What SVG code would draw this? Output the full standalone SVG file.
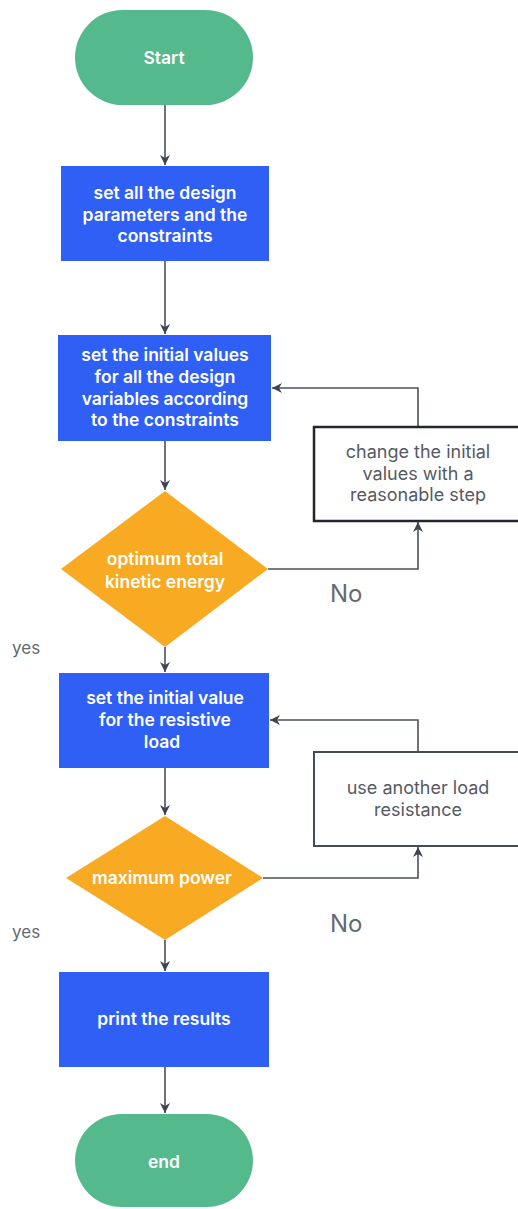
<svg xmlns="http://www.w3.org/2000/svg" width="518" height="1209" viewBox="0 0 518 1209">
<defs>
<style>
.term{fill:#55b98e}
.proc{fill:#2f5ff4}
.dec{fill:#f7aa22}
.io{fill:#ffffff;stroke:#23262e;stroke-width:2.5}
.io2{fill:#ffffff;stroke:#454b59;stroke-width:2}
.wt{fill:#ffffff;font-family:Inter,"Liberation Sans",sans-serif;font-weight:600;font-size:17.5px;text-anchor:middle}
.gt{fill:#555a63;font-family:Inter,"Liberation Sans",sans-serif;font-weight:400;font-size:18px;text-anchor:middle}
.lbl{fill:#666a70;font-family:Inter,"Liberation Sans",sans-serif;font-weight:400}
.edge{fill:none;stroke:#4b505d;stroke-width:1.6}
</style>
<marker id="ah" viewBox="0 0 10 10" refX="10" refY="5" markerWidth="10" markerHeight="10" markerUnits="userSpaceOnUse" orient="auto">
<path d="M0,0 L10,5 L0,10 L3,5 Z" fill="#3f4452"/>
</marker>
</defs>
<rect width="518" height="1209" fill="#ffffff"/>

<g id="connectors">
<path class="edge" d="M165,105 V165" marker-end="url(#ah)"/>
<path class="edge" d="M165,261 V334" marker-end="url(#ah)"/>
<path class="edge" d="M165,441 V490" marker-end="url(#ah)"/>
<path class="edge" d="M268,569 H418 V522" marker-end="url(#ah)"/>
<path class="edge" d="M418,427 V388 H272" marker-end="url(#ah)"/>
<path class="edge" d="M165,647 V672" marker-end="url(#ah)"/>
<path class="edge" d="M165,768 V815" marker-end="url(#ah)"/>
<path class="edge" d="M263,878 H418 V847" marker-end="url(#ah)"/>
<path class="edge" d="M418,752 V720 H270" marker-end="url(#ah)"/>
<path class="edge" d="M165,940 V971" marker-end="url(#ah)"/>
<path class="edge" d="M165,1067 V1113" marker-end="url(#ah)"/>
</g>

<g id="start">
<rect class="term" x="75" y="10" width="178" height="95" rx="47.5" ry="47.5"/>
<text class="wt" x="164" y="64">Start</text>
</g>

<g id="setParams">
<rect class="proc" x="61" y="166" width="208" height="95"/>
<text class="wt" x="165" y="199">set all the design</text>
<text class="wt" x="165" y="221">parameters and the</text>
<text class="wt" x="165" y="242">constraints</text>
</g>

<g id="setInitial">
<rect class="proc" x="58" y="335" width="213" height="106"/>
<text class="wt" x="165" y="361">set the initial values</text>
<text class="wt" x="165" y="383">for all the design</text>
<text class="wt" x="165" y="405">variables according</text>
<text class="wt" x="165" y="426">to the constraints</text>
</g>

<g id="changeInitial">
<rect class="io" x="314" y="427" width="210" height="94"/>
<text class="gt" x="418" y="458">change the initial</text>
<text class="gt" x="418" y="480">values with a</text>
<text class="gt" x="418" y="501">reasonable step</text>
</g>

<g id="optimumKE">
<polygon class="dec" points="165,491 268,569 165,647 61,569"/>
<text class="wt" x="165" y="565">optimum total</text>
<text class="wt" x="165" y="588">kinetic energy</text>
</g>

<text class="lbl" x="330" y="602" font-size="24">No</text>
<text class="lbl" x="12" y="654" font-size="17">yes</text>

<g id="setLoad">
<rect class="proc" x="59" y="673" width="210" height="95"/>
<text class="wt" x="165" y="704">set the initial value</text>
<text class="wt" x="165" y="726">for the resistive</text>
<text class="wt" x="162" y="748">load</text>
</g>

<g id="anotherLoad">
<rect class="io2" x="314" y="752" width="210" height="94"/>
<text class="gt" x="418" y="794">use another load</text>
<text class="gt" x="418" y="816">resistance</text>
</g>

<g id="maxPower">
<polygon class="dec" points="165,816 263,878 165,940 66,878"/>
<text class="wt" x="162" y="884">maximum power</text>
</g>

<text class="lbl" x="330" y="932" font-size="24">No</text>
<text class="lbl" x="12" y="938" font-size="17">yes</text>

<g id="printResults">
<rect class="proc" x="59" y="972" width="210" height="95"/>
<text class="wt" x="164" y="1025">print the results</text>
</g>

<g id="end">
<rect class="term" x="75" y="1114" width="178" height="93" rx="46.5" ry="46.5"/>
<text class="wt" x="164" y="1168">end</text>
</g>
</svg>
